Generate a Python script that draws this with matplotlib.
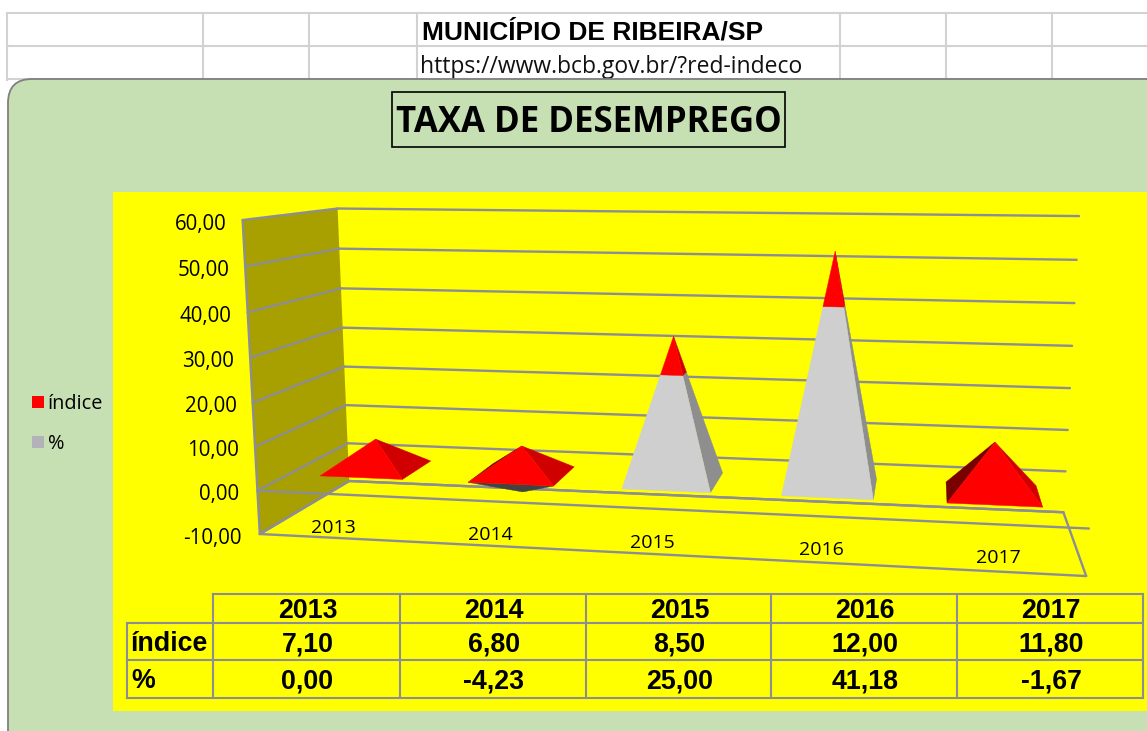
import numpy as np
import matplotlib
matplotlib.use("Agg")
import matplotlib.pyplot as plt
from matplotlib.patches import Polygon, Rectangle, FancyBboxPatch

# ---- data
years = ["2013", "2014", "2015", "2016", "2017"]
indice = [7.10, 6.80, 8.50, 12.00, 11.80]
pct = [0.00, -4.23, 25.00, 41.18, -1.67]
row_names = ["índice", "%"]
y_ticks = [60, 50, 40, 30, 20, 10, 0, -10]
fmt = lambda v: f"{v:.2f}".replace(".", ",")

W, H = 1147, 731
fig = plt.figure(figsize=(W / 100, H / 100), dpi=100, facecolor="white")
ax = fig.add_axes([0, 0, 1, 1])
ax.set_xlim(0, W); ax.set_ylim(H, 0); ax.axis("off")

GRID = "#d2d2d2"; LINE = "#8d8d94"; GREEN = "#c6e0b4"; YEL = "#ffff00"; OLIVE = "#a8a000"

# ---- spreadsheet behind the chart
for y in (13, 46, 79):
    ax.plot([7, W], [y, y], color=GRID, lw=1.5, zorder=1)
for x in (7, 203, 309, 417, 840, 946, 1052):
    ax.plot([x, x], [13, 80], color=GRID, lw=1.5, zorder=1)
ax.text(422, 32, "MUNICÍPIO DE RIBEIRA/SP", family="Liberation Sans", weight="bold",
        fontsize=19, va="center", ha="left", color="black", zorder=2)
ax.text(420, 67, "https://www.bcb.gov.br/?red-indeco", family="Open Sans",
        fontsize=16.5, va="center", ha="left", color="#111111", zorder=2)

# ---- chart area
ax.add_patch(FancyBboxPatch((8, 79), W + 60, H + 60, boxstyle="round,pad=0,rounding_size=24",
                            fc=GREEN, ec="#7f7f7f", lw=1.3, zorder=3))
ax.add_patch(Rectangle((392, 92), 393, 55, fc="none", ec="black", lw=1.2, zorder=4))
ax.text(589, 123, "TAXA DE DESEMPREGO", family="Open Sans", weight="bold", fontsize=25,
        va="center", ha="center", color="black", zorder=5)
ax.add_patch(Rectangle((113, 192), W - 113, 519, fc=YEL, ec="none", zorder=4))

# ---- 3-D projection (u along categories, d depth, v value axis), fitted on the frame
calib = [
    (0, 0, -10, 260, 535), (0, 1, -10, 349, 481), (1, 1, -10, 1063, 513), (1, 0, -10, 1086, 576),
    (0, 0, 0, 258, 490), (0, 1, 0, 347, 443), (1, 1, 0, 1066, 471), (1, 0, 0, 1089, 528),
    (0, 0, 60, 242, 220), (0, 1, 60, 338, 209), (1, 1, 60, 1079, 216),
    (0, 0, 30, 250, 358), (0, 1, 30, 343, 327), (1, 1, 30, 1072, 346),
]
A, b = [], []
for u, d, v, x, y in calib:
    A.append([u, d, v, 1, 0, 0, 0, 0, -x * u, -x * d, -x * v]); b.append(x)
    A.append([0, 0, 0, 0, u, d, v, 1, -y * u, -y * d, -y * v]); b.append(y)
p = np.linalg.lstsq(np.array(A, float), np.array(b, float), rcond=None)[0]

def P(u, d, v):
    w = p[8] * u + p[9] * d + p[10] * v + 1
    return ((p[0] * u + p[1] * d + p[2] * v + p[3]) / w,
            (p[4] * u + p[5] * d + p[6] * v + p[7]) / w)

def seg(a, b_, z=6, lw=1.7, c=LINE):
    ax.plot([a[0], b_[0]], [a[1], b_[1]], color=c, lw=lw, zorder=z, solid_capstyle="round")

vmin, vmax = min(y_ticks), max(y_ticks)
# left wall
ax.add_patch(Polygon([P(0, 0, vmin), P(0, 1, vmin), P(0, 1, vmax), P(0, 0, vmax)],
                     fc=OLIVE, ec="none", zorder=5))
for v in y_ticks:
    seg(P(0, 0, v), P(0, 1, v))
    seg(P(0, 1, v), P(1, 1, v))
    x, y = P(0, 0, v)
    ax.text(x - 16 if v > 0 else x - 18, y + 4, fmt(v), family="Open Sans", fontsize=14.8,
            ha="right", va="center", color="black", zorder=8)
seg(P(0, 0, vmin), P(0, 0, vmax))
# floor
seg(P(0, 1, vmin), P(1, 1, vmin)); seg(P(1, 1, vmin), P(1, 0, vmin))
seg(P(1, 0, vmin), P(0, 0, vmin)); seg(P(0, 0, vmin), P(0, 1, vmin))

# ---- stacked pyramids
HALF_U, HALF_D = 0.056, 0.19
positions = [0.1 + 0.2 * i for i in range(len(years))]
GREY_F = {"front": "#cfcfcf", "right": "#8e8e8e", "left": "#6f6f6f", "back": "#8e8e8e"}
RED_F = {"front": "#ff0000", "right": "#d00000", "left": "#780000", "back": "#d00000"}
NEG_F = {"front": "#424242", "right": "#333333", "left": "#333333", "back": "#333333"}

def area(pts):
    a = np.array(pts)
    return 0.5 * np.sum(a[:, 0] * np.roll(a[:, 1], -1) - np.roll(a[:, 0], -1) * a[:, 1])

def piece(u, base, apex, f0, f1, cols, z):
    """section between fractions f0 and f1 of the height of one pyramid"""
    corners = {"fl": (-1, -1), "fr": (1, -1), "br": (1, 1), "bl": (-1, 1)}
    faces = [("back", "br", "bl"), ("left", "bl", "fl"), ("right", "fr", "br"), ("front", "fl", "fr")]
    def pt(key, f):
        su, sd = corners[key]
        return P(u + su * HALF_U * (1 - f), 0.5 + sd * HALF_D * (1 - f), base + (apex - base) * f)
    for name, k1, k2 in faces:
        poly = [pt(k1, f0), pt(k2, f0), pt(k2, f1), pt(k1, f1)]
        ax.add_patch(Polygon(poly, fc=cols[name], ec=cols[name], lw=0.3, zorder=z,
                             visible=(area(poly) * np.sign(apex - base) < 0)))

for u, a_, b_ in zip(positions, indice, pct):
    if b_ < 0:
        piece(u, 0, b_, 0, 1, NEG_F, 9)
        piece(u, 0, a_, 0, 1, RED_F, 10)
    else:
        top = a_ + b_
        f = b_ / top
        if b_ > 0:
            piece(u, 0, top, 0, f, GREY_F, 10)
        piece(u, 0, top, f, 1, RED_F, 10)

# category axis in front of the floor
a0, a1 = P(0, 0, 0), P(1, 0, 0)
seg(a0, a1, z=7)
for u, yr in zip(positions, years):
    x, y = P(u, 0, 0)
    ax.text(x, y + 34, yr, family="Open Sans", fontsize=14, ha="center", va="center",
            color="black", zorder=8)

# ---- legend
ax.add_patch(Rectangle((32, 396), 12, 12, fc="#ff0000", ec="none", zorder=5))
ax.text(48, 404, row_names[0], family="Open Sans", fontsize=14.3, va="center", zorder=5)
ax.add_patch(Rectangle((32, 436), 12, 12, fc="#b2b2b8", ec="none", zorder=5))
ax.text(48, 444, row_names[1], family="Open Sans", fontsize=14.3, va="center", zorder=5)

# ---- data table
xs = [213, 400, 586, 771, 957, 1143]
ys = [594, 623, 660, 698]
x0 = 127
for y in ys[:1]:
    ax.plot([xs[0], xs[-1]], [y, y], color=LINE, lw=1.5, zorder=6)
for y in ys[1:]:
    ax.plot([x0, xs[-1]], [y, y], color=LINE, lw=1.5, zorder=6)
for x in xs:
    ax.plot([x, x], [ys[0], ys[-1]], color=LINE, lw=1.5, zorder=6)
ax.plot([x0, x0], [ys[1], ys[-1]], color=LINE, lw=1.5, zorder=6)
tkw = dict(family="Liberation Sans", weight="bold", fontsize=19.3, va="center", color="black", zorder=7)
for i, yr in enumerate(years):
    cx = (xs[i] + xs[i + 1]) / 2 + 1
    ax.text(cx, (ys[0] + ys[1]) / 2 + 2.5, yr, ha="center", **tkw)
    ax.text(cx, (ys[1] + ys[2]) / 2 + 2.5, fmt(indice[i]), ha="center", **tkw)
    ax.text(cx, (ys[2] + ys[3]) / 2 + 2.5, fmt(pct[i]), ha="center", **tkw)
ax.text(131, (ys[1] + ys[2]) / 2 + 2.5, row_names[0], ha="left", **tkw)
ax.text(131, (ys[2] + ys[3]) / 2 + 2.5, row_names[1], ha="left", **tkw)

fig.savefig("out.png", dpi=100, facecolor="white")
